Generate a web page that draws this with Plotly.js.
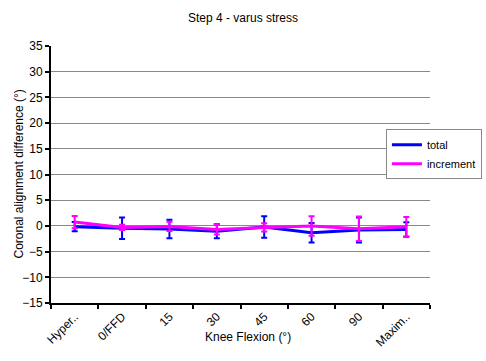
<!DOCTYPE html>
<html>
<head>
<script src="https://cdn.plot.ly/plotly-3.0.1.min.js"></script>
<style>html,body{margin:0;padding:0;background:#fff;}#chart{width:486px;height:361px;}</style>
</head>
<body>
<div id="chart"></div>
<script>
var categories = ["Hyper..", "0/FFD", "15", "30", "45", "60", "90", "Maxim.."];
var totalValues = [-0.15, -0.45, -0.6, -1.05, -0.2, -1.35, -0.8, -0.7];
var totalErrors = [0.9, 2.1, 1.8, 1.35, 2.1, 1.9, 2.45, 1.4];
var incrementValues = [0.75, -0.3, -0.1, -0.7, -0.3, 0.0, -0.55, -0.15];
var incrementErrors = [1.2, 0.5, 0.9, 0.95, 0.8, 1.9, 2.4, 1.9];
var yTicks = [-15, -10, -5, 0, 5, 10, 15, 20, 25, 30, 35];

var font = "Liberation Sans, Arial, sans-serif";
var traces = [
  {x: categories, y: totalValues, name: "total", type: "scatter", mode: "lines",
   line: {color: "#0000FF", width: 3},
   error_y: {type: "data", array: totalErrors, visible: true, color: "#0000FF", thickness: 2, width: 3}},
  {x: categories, y: incrementValues, name: "increment", type: "scatter", mode: "lines",
   line: {color: "#FF00FF", width: 3},
   error_y: {type: "data", array: incrementErrors, visible: true, color: "#FF00FF", thickness: 2, width: 3}}
];
var layout = {
  width: 486, height: 361,
  margin: {l: 51, r: 56, t: 46, b: 58, autoexpand: false},
  paper_bgcolor: "#fff", plot_bgcolor: "#fff",
  font: {family: font, size: 12, color: "#000"},
  title: {text: "Step 4 - varus stress", font: {family: font, size: 12, color: "#000"}, x: 0.5, xanchor: "center", y: 0.952, yanchor: "middle"},
  showlegend: true,
  legend: {x: 1.137, y: 0.676, xanchor: "right", yanchor: "top", bgcolor: "#fff", bordercolor: "#888", borderwidth: 1,
           font: {family: font, size: 11, color: "#000"}, itemwidth: 30, tracegroupgap: 0},
  xaxis: {type: "category", tickson: "boundaries", ticks: "outside", ticklen: 4, tickwidth: 2, tickcolor: "#000",
          showline: true, linecolor: "#000", linewidth: 2, showgrid: false, tickangle: -45,
          tickfont: {family: font, size: 12, color: "#000"}, range: [-0.5, 7.5], automargin: false},
  yaxis: {range: [-15, 35], tickvals: yTicks, ticks: "outside", ticklen: 4, tickwidth: 2, tickcolor: "#000",
          showline: true, linecolor: "#000", linewidth: 2, showgrid: true, gridcolor: "#888", gridwidth: 1,
          zeroline: false, tickfont: {family: font, size: 12, color: "#000"}, automargin: false},
  annotations: [
    {text: "Knee Flexion (°)", xref: "paper", yref: "paper", x: 0.52, y: -0.1335, xanchor: "center", yanchor: "middle",
     showarrow: false, font: {family: font, size: 12, color: "#000"}},
    {text: "Coronal alignment difference (°)", xref: "paper", yref: "paper", x: -0.087, y: 0.5, xanchor: "center", yanchor: "middle",
     textangle: -90, showarrow: false, font: {family: font, size: 12, color: "#000"}}
  ]
};
Plotly.newPlot("chart", traces, layout, {displayModeBar: false, staticPlot: true});
</script>
</body>
</html>
